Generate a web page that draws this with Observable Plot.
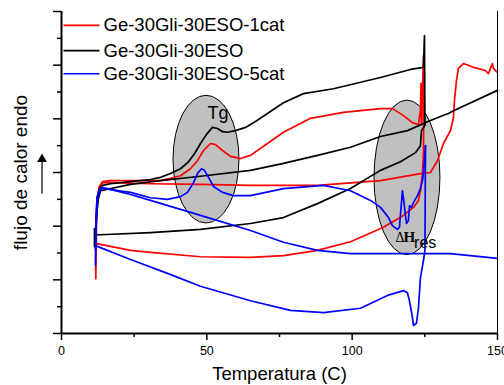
<!DOCTYPE html>
<html><head><meta charset="utf-8">
<script src="https://cdn.jsdelivr.net/npm/d3@7"></script>
<script src="https://cdn.jsdelivr.net/npm/@observablehq/plot@0.6"></script>
<style>html,body{margin:0;padding:0;background:#fff;overflow:hidden;} #chart svg{display:block}</style>
</head><body><div id="chart"></div>
<script>
// ---- legend / series ----
const seriesNames = ["Ge-30Gli-30ESO-1cat", "Ge-30Gli-30ESO", "Ge-30Gli-30ESO-5cat"];
const seriesColors = ["#ff0000", "#000000", "#0000ff"];

// ---- axes ----
const xTicks = [0, 50, 100, 150];
const xMinorTicks = [25, 75, 125];
const yTicks = [0, 1, 2, 3, 4, 5, 6];
const yMinorTicks = [0.5, 1.5, 2.5, 3.5, 4.5, 5.5];
const xLabel = "Temperatura (C)";
const yLabel = "flujo de calor endo";

// ---- data: [Temperatura, flujo (u.a.)] ----
const red1catHeat1 = [[11.70,1.73],[11.80,1.02],[11.90,1.45],[12.04,2.11],[12.38,2.52],[13.07,2.74],[14.10,2.83],[16.86,2.85],[23.74,2.85],[34.06,2.85],[37.50,2.89],[40.94,2.94],[44.38,3.07],[46.78,3.22],[48.85,3.41],[51.26,3.54],[52.98,3.52],[55.38,3.41],[58.14,3.30],[61.58,3.26],[65.02,3.32],[70.86,3.54],[76.37,3.75],[85.66,4.01],[97.01,4.12],[109.74,4.19],[113.86,4.19],[117.65,4.06],[120.74,3.93],[122.81,3.89],[123.49,4.16],[123.67,4.66],[123.84,3.89],[124.53,5.18],[124.70,5.09],[124.53,3.41],[124.18,2.98],[123.49,2.66]];
const red1catCool = [[123.49,2.66],[122.81,2.48],[121.09,2.35],[117.65,2.20],[110.77,1.98],[99.42,1.71],[88.06,1.55],[76.37,1.45],[65.02,1.42],[47.82,1.43],[30.62,1.51],[23.74,1.55],[13.42,1.66],[11.70,1.68]];
const red1catHeat2 = [[11.70,1.64],[12.04,2.20],[12.38,2.55],[13.07,2.74],[14.10,2.81],[16.86,2.81],[30.62,2.79],[47.82,2.78],[65.02,2.76],[88.06,2.76],[109.74,2.85],[123.49,2.98],[126.94,3.00],[129.34,3.22],[131.41,3.54],[133.82,3.78],[134.85,4.02],[135.19,4.34],[135.88,4.71],[136.57,4.94],[138.29,5.03],[141.73,4.96],[145.85,4.90],[146.89,4.84],[147.57,4.94],[148.26,5.03],[148.61,4.94],[149.98,4.86]];

const blackHeat1 = [[11.70,1.81],[12.04,2.25],[12.38,2.55],[13.07,2.70],[14.10,2.76],[16.86,2.79],[23.74,2.83],[30.62,2.87],[34.06,2.91],[37.50,2.98],[40.94,3.07],[43.69,3.20],[45.75,3.35],[47.82,3.54],[49.88,3.71],[51.94,3.84],[53.66,3.82],[55.38,3.76],[57.10,3.75],[59.86,3.78],[63.30,3.84],[66.74,3.95],[70.86,4.10],[76.37,4.30],[83.25,4.47],[93.57,4.56],[109.74,4.77],[120.06,4.92],[124.53,4.96],[124.87,5.55],[125.04,3.88]];
const blackCool = [[125.04,3.88],[123.84,3.78],[123.49,3.50],[121.78,3.37],[116.62,3.20],[109.74,3.04],[99.42,2.70],[88.06,2.42],[76.37,2.16],[65.02,2.05],[47.82,1.94],[30.62,1.88],[13.42,1.84],[11.70,1.84]];
const blackHeat2 = [[11.35,1.96],[11.35,1.62],[11.70,1.73],[12.04,2.20],[12.73,2.52],[13.42,2.66],[23.74,2.78],[34.06,2.85],[47.82,2.93],[65.02,3.04],[76.37,3.17],[88.06,3.32],[99.42,3.47],[109.74,3.67],[119.02,3.78],[126.94,3.97],[132.10,4.08],[133.13,4.10],[134.50,4.14],[149.98,4.53]];

const blue5catHeat1 = [[11.70,1.27],[11.87,1.92],[12.04,2.38],[12.38,2.57],[13.07,2.68],[14.10,2.72],[16.86,2.68],[23.74,2.63],[30.62,2.53],[36.46,2.50],[40.94,2.55],[43.34,2.63],[45.41,2.81],[46.78,2.98],[48.16,3.07],[49.19,3.04],[50.57,2.91],[52.29,2.74],[55.38,2.63],[59.17,2.57],[65.02,2.57],[76.37,2.70],[90.13,2.76],[99.42,2.66],[106.30,2.48],[109.74,2.35],[112.49,2.16],[113.86,2.01],[115.58,1.94],[116.27,1.98],[117.30,2.66],[117.65,2.52],[118.68,2.05],[119.37,2.11],[119.71,2.38],[120.40,2.35],[121.09,2.44],[122.46,2.57],[123.49,2.70],[124.18,2.85],[124.53,2.98],[125.22,3.50]];
const blue5catCool = [[125.22,3.50],[125.04,1.55],[124.53,1.36],[123.49,1.04],[122.81,0.48],[122.12,0.19],[121.09,0.15],[120.74,0.30],[119.71,0.61],[119.02,0.76],[117.65,0.80],[112.14,0.71],[102.86,0.47],[90.13,0.39],[78.78,0.43],[65.02,0.61],[47.82,0.88],[36.46,1.12],[23.74,1.38],[13.42,1.60],[11.70,1.64]];
const blue5catHeat2 = [[11.70,1.55],[12.04,2.20],[12.38,2.52],[13.07,2.66],[13.76,2.70],[15.82,2.70],[23.74,2.59],[30.62,2.48],[47.82,2.20],[65.02,1.92],[76.37,1.70],[88.06,1.55],[99.42,1.49],[110.77,1.49],[133.82,1.49],[149.98,1.40]];

// ---- annotations ----
const highlightEllipses = [
  {cx: 49.88, cy: 3.24, rx: 11.35, ry: 1.19},
  {cx: 119.02, cy: 2.90, rx: 11.35, ry: 1.44}
];
const legendY = [5.74, 5.27, 4.84];
const legendX = [0.69, 13.07, 14.45];

// ---- build table ----
const traces = [
  {series: seriesNames[0], pts: red1catHeat1},
  {series: seriesNames[0], pts: red1catCool},
  {series: seriesNames[0], pts: red1catHeat2},
  {series: seriesNames[1], pts: blackHeat1},
  {series: seriesNames[1], pts: blackCool},
  {series: seriesNames[1], pts: blackHeat2},
  {series: seriesNames[2], pts: blue5catHeat1},
  {series: seriesNames[2], pts: blue5catCool},
  {series: seriesNames[2], pts: blue5catHeat2}
];
const rows = traces.flatMap((t, i) => t.pts.map(([T, Y]) => ({T, Y, trace: i, series: t.series})));

const legendRows = seriesNames.map((s, i) => ({series: s, y: legendY[i]}));

function ellipseMark(index, scales) {
  const g = d3.create("svg:g");
  for (const e of highlightEllipses) {
    const cx = scales.x(e.cx), cy = scales.y(e.cy);
    const rx = Math.abs(scales.x(e.cx + e.rx) - cx);
    const ry = Math.abs(scales.y(e.cy + e.ry) - cy);
    g.append("ellipse").attr("cx", cx).attr("cy", cy).attr("rx", rx).attr("ry", ry)
      .attr("fill", "#c0c0c0").attr("stroke", "#000").attr("stroke-width", 1);
  }
  return g.node();
}

const sans = "'Liberation Sans', Arial, Helvetica, sans-serif";
const serif = "'Liberation Serif', 'Times New Roman', serif";

const chart = Plot.plot({
  width: 504, height: 385,
  marginLeft: 61, marginRight: 7, marginTop: 11, marginBottom: 52,
  x: {domain: [0, 150], label: null},
  y: {domain: [0, 6], label: null},
  color: {domain: seriesNames, range: seriesColors},
  style: {fontFamily: sans, background: "#fff", color: "#000", overflow: "visible"},
  marks: [
    ellipseMark,
    Plot.line(rows, {x: "T", y: "Y", z: "trace", stroke: "series", strokeWidth: 1.7, curve: "linear"}),
    // axes
    Plot.axisX(xTicks, {tickSize: 7, tickPadding: 6, fontSize: 12.5, strokeWidth: 1.5, label: null}),
    Plot.axisX(xMinorTicks, {tickSize: 4, tickFormat: () => "", strokeWidth: 1.5, label: null}),
    Plot.axisY(yTicks, {tickSize: 8, tickFormat: () => "", strokeWidth: 1.5, label: null}),
    Plot.axisY(yMinorTicks, {tickSize: 4, tickFormat: () => "", strokeWidth: 1.5, label: null}),
    Plot.ruleY([0], {strokeWidth: 2}),
    Plot.ruleX([0], {strokeWidth: 2}),
    Plot.ruleX([150], {strokeWidth: 1}),
    // axis titles
    Plot.text([xLabel], {frameAnchor: "bottom", dy: 46, textAnchor: "middle", lineAnchor: "bottom", fontSize: 18.5, fill: "#000"}),
    Plot.text([yLabel], {frameAnchor: "left", dx: -41, rotate: -90, textAnchor: "middle", lineAnchor: "middle", fontSize: 19, fill: "#000"}),
    // arrow next to y title
    Plot.link([{x: -6.7, y1: 2.61, y2: 3.22}], {x1: "x", x2: "x", y1: "y1", y2: "y2", stroke: "#000", strokeWidth: 1.2}),
    Plot.dot([{x: -6.7, y: 3.25}], {x: "x", y: "y", symbol: "triangle", r: 3.6, fill: "#000", stroke: "none"}),
    // legend
    Plot.link(legendRows, {x1: legendX[0], x2: legendX[1], y1: "y", y2: "y", stroke: "series", strokeWidth: 1.7}),
    Plot.text(legendRows, {x: legendX[2], y: "y", text: "series", textAnchor: "start", lineAnchor: "middle", fontSize: 18.5, fill: "#000"}),
    // annotations
    Plot.text([{x: 50.22, y: 3.99, t: "Tg"}], {x: "x", y: "y", text: "t", textAnchor: "start", lineAnchor: "bottom", fontSize: 18, fill: "#000"}),
    Plot.text([{x: 114.9, y: 1.71, t: "\u0394"}], {x: "x", y: "y", text: "t", textAnchor: "start", lineAnchor: "bottom", fontSize: 14, fontFamily: serif, fill: "#000"}),
    Plot.text([{x: 117.65, y: 1.71, t: "H"}], {x: "x", y: "y", text: "t", textAnchor: "start", lineAnchor: "bottom", fontSize: 15, fontWeight: "bold", fontFamily: serif, fill: "#000"}),
    Plot.text([{x: 121.3, y: 1.60, t: "res"}], {x: "x", y: "y", text: "t", textAnchor: "start", lineAnchor: "bottom", fontSize: 16, fill: "#000"})
  ]
});
document.getElementById("chart").appendChild(chart);
</script>
</body></html>
